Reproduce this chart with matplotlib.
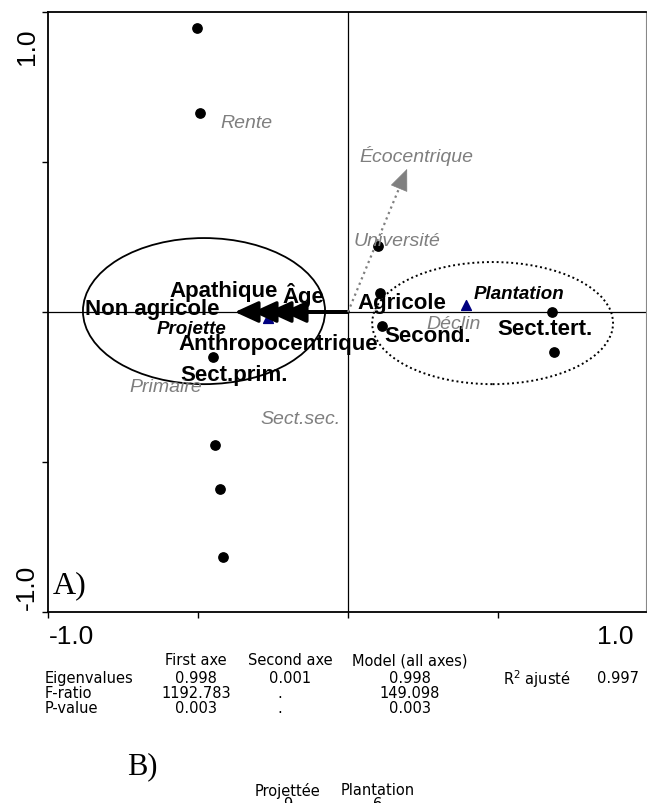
import matplotlib.pyplot as plt
from matplotlib.patches import Ellipse

plt.rcParams['font.family'] = ['Liberation Sans', 'DejaVu Sans']

W, H = 647, 804

# site scores (black dots)
site_x = [-0.503, -0.493, -0.450, -0.443, -0.427, -0.417, 0.100, 0.107, 0.113, 0.680, 0.687]
site_y = [0.947, 0.663, -0.150, -0.443, -0.590, -0.817, 0.220, 0.063, -0.047, 0.000, -0.133]

# nominal variable centroids (blue triangles)
centroid_names = ['Projette', 'Plantation']
centroid_x = [-0.267, 0.393]
centroid_y = [-0.020, 0.023]

# explanatory variable arrows
env_names = ['Non agricole', 'Apathique', 'Âge', 'Anthropocentrique']
env_x = [-0.377, -0.317, -0.267, -0.217]
env_y = [0.0, 0.0, 0.0, 0.0]

# supplementary variable
suppl_name = 'Écocentrique'
suppl_x = 0.197
suppl_y = 0.477

# group envelopes: centre x, centre y, width, height
ellipse_solid = [-0.480, 0.003, 0.807, 0.487]
ellipse_dotted = [0.482, -0.037, 0.803, 0.407]

bold_labels = ['Apathique', 'Âge', 'Non agricole', 'Anthropocentrique', 'Sect.prim.',
               'Agricole', 'Second.', 'Sect.tert.']
bold_italic_labels = ['Projette', 'Plantation']
grey_labels = ['Rente', 'Écocentrique', 'Université', 'Déclin', 'Primaire', 'Sect.sec.']

table_cols = ['First axe', 'Second axe', 'Model (all axes)']
table_rows = ['Eigenvalues', 'F-ratio', 'P-value']
eigenvalues = ['0.998', '0.001', '0.998']
f_ratio = ['1192.783', '.', '149.098']
p_value = ['0.003', '.', '0.003']
r2_adj = '0.997'

count_names = ['Projettée', 'Plantation']
counts = [9, 6]

# label placement (data coords)
label_pos = {
    'Apathique': (-0.413, 0.072), 'Âge': (-0.147, 0.060), 'Non agricole': (-0.653, 0.012),
    'Anthropocentrique': (-0.233, -0.104), 'Sect.prim.': (-0.380, -0.207),
    'Agricole': (0.180, 0.030), 'Second.': (0.267, -0.077), 'Sect.tert.': (0.657, -0.054),
    'Projette': (-0.520, -0.054), 'Plantation': (0.570, 0.063),
    'Rente': (-0.340, 0.633), 'Écocentrique': (0.227, 0.523), 'Université': (0.163, 0.240),
    'Déclin': (0.353, -0.037), 'Primaire': (-0.607, -0.247), 'Sect.sec.': (-0.157, -0.354),
}


def fxy(px, py):
    return px / W, 1 - py / H


fig = plt.figure(figsize=(W / 100, H / 100), dpi=100)
ax = fig.add_axes([48 / W, 1 - 613 / H, 598 / W, 600 / H])
ax.set_xlim(-1, 0.9933)
ax.set_ylim(-1, 1)
ax.set_xticks([-1, -0.5, 0, 0.5])
ax.set_yticks([-1, -0.5, 0, 0.5, 1])
ax.tick_params(direction='out', length=4, width=1, labelbottom=False, labelleft=False)
for side in ['left', 'top', 'bottom']:
    ax.spines[side].set_linewidth(1.3)
ax.spines['right'].set_color('#888888')

ax.axhline(0, color='black', lw=0.9, zorder=1)
ax.axvline(0, color='black', lw=0.9, zorder=1)

cx, cy, ew, eh = ellipse_solid
ax.add_patch(Ellipse((cx, cy), ew, eh, fill=False, ec='black', lw=1.3, zorder=2))
cx, cy, ew, eh = ellipse_dotted
ax.add_patch(Ellipse((cx, cy), ew, eh, fill=False, ec='black', lw=1.4, ls=(0, (1, 1.5)), zorder=2))

ax.scatter(centroid_x, centroid_y, marker='^', s=50, color='#000080', zorder=3)

for tx, ty in zip(env_x, env_y):
    ax.annotate('', xy=(tx, ty), xytext=(0, 0),
                arrowprops=dict(arrowstyle='-|>,head_length=1.2,head_width=0.55',
                                mutation_scale=12, lw=2.4, color='black',
                                shrinkA=0, shrinkB=0), zorder=4)

ax.plot([0, suppl_x * 0.93], [0, suppl_y * 0.93], ls=':', color='#808080', lw=1.6, zorder=4)
ax.annotate('', xy=(suppl_x, suppl_y), xytext=(suppl_x * 0.9, suppl_y * 0.9),
            arrowprops=dict(arrowstyle='-|>,head_length=1.2,head_width=0.5',
                            mutation_scale=12, lw=0.5, color='#808080',
                            shrinkA=0, shrinkB=0), zorder=4)

ax.scatter(site_x, site_y, s=45, color='black', zorder=5)

for name in bold_labels:
    ax.text(*label_pos[name], name, ha='center', va='center', fontsize=16,
            fontweight='bold', color='black', zorder=6)
for name in bold_italic_labels:
    ax.text(*label_pos[name], name, ha='center', va='center', fontsize=13.5,
            fontweight='bold', fontstyle='italic', color='black', zorder=6)
for name in grey_labels:
    ax.text(*label_pos[name], name, ha='center', va='center', fontsize=14,
            fontstyle='italic', color='#7f7f7f', zorder=6)

ax.text(0.008, 0.045, 'A)', transform=ax.transAxes, ha='left', va='center',
        fontsize=23, family='Liberation Serif')

# axis end labels
fig.text(*fxy(72, 637), '-1.0', ha='center', va='center', fontsize=19)
fig.text(*fxy(615, 637), '1.0', ha='center', va='center', fontsize=19)
fig.text(*fxy(27, 47), '1.0', ha='center', va='center', fontsize=19, rotation=90)
fig.text(*fxy(27, 587), '-1.0', ha='center', va='center', fontsize=19, rotation=90)

# statistics table
tfont = dict(fontsize=10.5, family='DejaVu Sans', va='center')
col_x = [196, 290, 410]
for x, c in zip(col_x, table_cols):
    fig.text(*fxy(x, 661), c, ha='center', **tfont)
row_y = [679, 694, 709]
for y, name, vals in zip(row_y, table_rows, [eigenvalues, f_ratio, p_value]):
    fig.text(*fxy(45, y), name, ha='left', **tfont)
    for x, v in zip(col_x, vals):
        fig.text(*fxy(x if v != '.' else 280, y), v, ha='center', **tfont)
fig.text(*fxy(537, 679), 'R$^2$ ajusté', ha='center', **tfont)
fig.text(*fxy(618, 679), r2_adj, ha='center', **tfont)

fig.text(*fxy(142, 767), 'B)', ha='center', va='center', fontsize=22, family='Liberation Serif')
for x, name, n in zip([288, 378], count_names, counts):
    fig.text(*fxy(x, 791), name, ha='center', **tfont)
    fig.text(*fxy(x, 805), str(n), ha='center', **tfont)

fig.savefig('out.png', dpi=100)
